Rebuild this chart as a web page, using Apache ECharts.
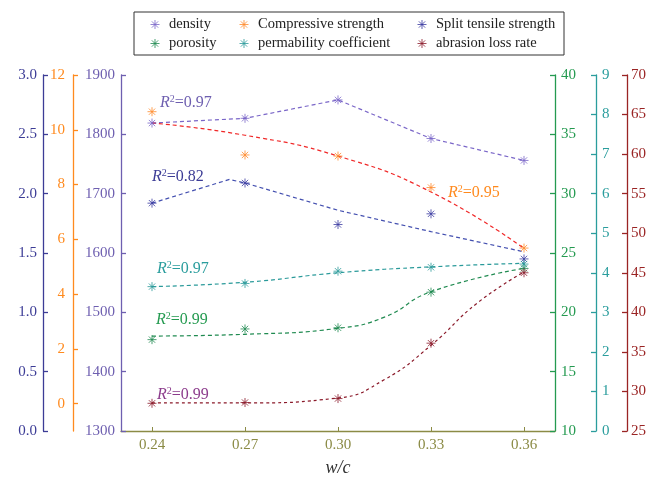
<!DOCTYPE html>
<html>
<head>
<meta charset="utf-8">
<script src="https://cdn.jsdelivr.net/npm/echarts@6/dist/echarts.min.js"></script>
<style>
  html, body { margin: 0; padding: 0; background: #fff; }
  #chart { width: 647px; height: 480px; }
</style>
</head>
<body>
<div id="chart"></div>
<script>
// w/c ratios
const wc = [0.24, 0.27, 0.30, 0.33, 0.36];

// measured values
const density = [1819, 1827, 1858, 1793, 1756];
const compressive = [10.66, 9.08, 9.04, 7.89, 5.68];
const splitTensile = [1.92, 2.09, 1.74, 1.83, 1.45];
const porosity = [17.7, 18.6, 18.7, 21.7, 23.7];
const permeability = [3.65, 3.73, 4.04, 4.14, 4.22];
const abrasion = [28.5, 28.6, 29.1, 36.1, 45.0];

// fitted curves as [w/c, value]
const densityFit = [[0.24, 1819], [0.27, 1827], [0.30, 1858], [0.33, 1793], [0.36, 1756]];
const compressiveFit = [[0.24, 10.25], [0.27, 9.80], [0.30, 9.04], [0.33, 7.73], [0.36, 5.67]];
const splitFit = [[0.24, 1.92], [0.265, 2.12], [0.27, 2.09], [0.30, 1.86], [0.33, 1.68], [0.36, 1.51]];
const porosityFit = [[0.24, 18.0], [0.27, 18.15], [0.30, 18.65], [0.315, 19.6], [0.33, 21.74], [0.36, 23.71]];
const permeabilityFit = [[0.24, 3.65], [0.27, 3.76], [0.30, 4.00], [0.33, 4.15], [0.36, 4.24]];
const abrasionFit = [[0.24, 28.55], [0.27, 28.55], [0.30, 29.17], [0.315, 31.5], [0.33, 35.83], [0.345, 41.2], [0.36, 45.1]];

// R² labels
const r2Labels = ['0.97', '0.82', '0.95', '0.97', '0.99', '0.99'];

const xTicks = [0.24, 0.27, 0.30, 0.33, 0.36];
const orangeTicks = [0, 2, 4, 6, 8, 10, 12];

const FONT = '"Liberation Serif", "DejaVu Serif", serif';
const STAR = 'path://M5 0 L5 10 M0 5 L10 5 M1.5 1.5 L8.5 8.5 M8.5 1.5 L1.5 8.5';

const C = {
    densAxis: '#6e5fb0', densMark: '#7a66c8',
    compAxis: '#ff8a1e', compMark: '#ff8a2a', compFit: '#f02828',
    splitAxis: '#3c3c96', splitMark: '#3a3aa0', splitFit: '#4450b0',
    poroAxis: '#249a50', poroMark: '#1f8a50',
    permAxis: '#2a9d9d', permMark: '#2a9a9a',
    abrAxis: '#9a2424', abrMark: '#8b1a2a',
    xAxis: '#8b8b45'
};

const chart = echarts.init(document.getElementById('chart'));

function yAxis(position, offset, color, min, max, interval, extra) {
    return Object.assign({
        type: 'value',
        position: position,
        offset: offset,
        min: min,
        max: max,
        interval: interval,
        splitLine: { show: false },
        axisLine: { show: true, onZero: false, lineStyle: { color: color, width: 1.3 } },
        axisTick: { show: true, inside: true, length: 5, lineStyle: { color: color, width: 1.3 } },
        axisLabel: { color: color, fontFamily: FONT, fontSize: 15, margin: 6, formatter: v => String(v) }
    }, extra || {});
}

function marks(name, data, color, axisIdx) {
    return {
        name: name,
        type: 'scatter',
        yAxisIndex: axisIdx,
        symbol: STAR,
        symbolSize: 9,
        itemStyle: { color: color, borderColor: color, borderWidth: 1 },
        data: data.map((v, i) => [wc[i], v]),
        z: 5
    };
}

function fit(name, data, color, axisIdx, smooth, dash) {
    return {
        name: name,
        type: 'line',
        yAxisIndex: axisIdx,
        showSymbol: false,
        smooth: smooth,
        silent: true,
        lineStyle: { color: color, width: 1.2, type: dash || [4, 3] },
        data: data,
        z: 3
    };
}

function r2(x, y, color, val) {
    return {
        type: 'text',
        x: x,
        y: y,
        style: {
            text: '{r|R}{s|2}{t|=' + val + '}',
            fill: color,
            verticalAlign: 'middle',
            rich: {
                r: { fontFamily: FONT, fontStyle: 'italic', fontSize: 16, lineHeight: 18, fill: color },
                s: { fontFamily: FONT, fontSize: 10, lineHeight: 18, verticalAlign: 'top', padding: [0, 0, 10, 0], fill: color },
                t: { fontFamily: FONT, fontSize: 16, lineHeight: 18, fill: color }
            }
        }
    };
}

function legend(left, names) {
    return {
        left: left,
        top: 12,
        orient: 'vertical',
        itemWidth: 18,
        itemHeight: 9,
        itemGap: 4,
        icon: STAR,
        itemStyle: { borderWidth: 1 },
        data: names,
        textStyle: { fontFamily: FONT, fontSize: 14.5, color: '#222' }
    };
}

chart.setOption({
    animation: false,
    backgroundColor: '#fff',
    grid: { left: 121, right: 92, top: 75, bottom: 49, containLabel: false, outerBoundsMode: 'none' },
    legend: [
        legend(145, ['density', 'porosity']),
        legend(234, ['Compressive strength', 'permability coefficient']),
        legend(412, ['Split tensile strength', 'abrasion loss rate'])
    ],
    graphic: [
        {
            type: 'rect',
            shape: { x: 134, y: 12, width: 430, height: 43 },
            style: { fill: 'none', stroke: '#333', lineWidth: 1 }
        },
        r2(160, 103, C.densAxis, r2Labels[0]),
        r2(152, 177, C.splitAxis, r2Labels[1]),
        r2(448, 193, C.compAxis, r2Labels[2]),
        r2(157, 269, C.permAxis, r2Labels[3]),
        r2(156, 320, C.poroAxis, r2Labels[4]),
        r2(157, 395, '#8c3c8c', r2Labels[5])
    ],
    xAxis: {
        type: 'value',
        min: 0.23,
        max: 0.37,
        name: 'w/c',
        nameLocation: 'middle',
        nameGap: 28,
        nameTextStyle: { fontFamily: FONT, fontStyle: 'italic', fontSize: 18, color: '#333' },
        splitLine: { show: false },
        axisLine: { onZero: false, lineStyle: { color: C.xAxis, width: 1.3 } },
        axisTick: { inside: true, length: 4, customValues: xTicks, lineStyle: { color: C.xAxis } },
        axisLabel: {
            customValues: xTicks,
            color: C.xAxis,
            fontFamily: FONT,
            fontSize: 15,
            margin: 7,
            formatter: v => v.toFixed(2)
        }
    },
    yAxis: [
        yAxis('left', 0, C.densAxis, 1300, 1900, 100, {}),
        yAxis('left', 48, C.compAxis, -1, 12, 1, {
            axisTick: { show: true, inside: true, length: 5, customValues: orangeTicks, lineStyle: { color: C.compAxis, width: 1.3 } },
            axisLabel: { color: C.compAxis, fontFamily: FONT, fontSize: 15, margin: 8, customValues: orangeTicks }
        }),
        yAxis('left', 78, C.splitAxis, 0, 3, 0.5, {
            axisLabel: { color: C.splitAxis, fontFamily: FONT, fontSize: 15, margin: 6, formatter: v => v.toFixed(1) }
        }),
        yAxis('right', 0, C.poroAxis, 10, 40, 5, {}),
        yAxis('right', 41, C.permAxis, 0, 9, 1, {}),
        yAxis('right', 72, C.abrAxis, 25, 70, 5, { axisLabel: { color: C.abrAxis, fontFamily: FONT, fontSize: 15, margin: 4 } })
    ],
    series: [
        fit('density fit', densityFit, C.densMark, 0, false),
        fit('compressive fit', compressiveFit, C.compFit, 1, true),
        fit('split fit', splitFit, C.splitFit, 2, false),
        fit('porosity fit', porosityFit, C.poroMark, 3, true),
        fit('permeability fit', permeabilityFit, C.permMark, 4, true),
        fit('abrasion fit', abrasionFit, C.abrMark, 5, true, [3, 3]),
        marks('density', density, C.densMark, 0),
        marks('Compressive strength', compressive, C.compMark, 1),
        marks('Split tensile strength', splitTensile, C.splitMark, 2),
        marks('porosity', porosity, C.poroMark, 3),
        marks('permability coefficient', permeability, C.permMark, 4),
        marks('abrasion loss rate', abrasion, C.abrMark, 5)
    ]
});
</script>
</body>
</html>
